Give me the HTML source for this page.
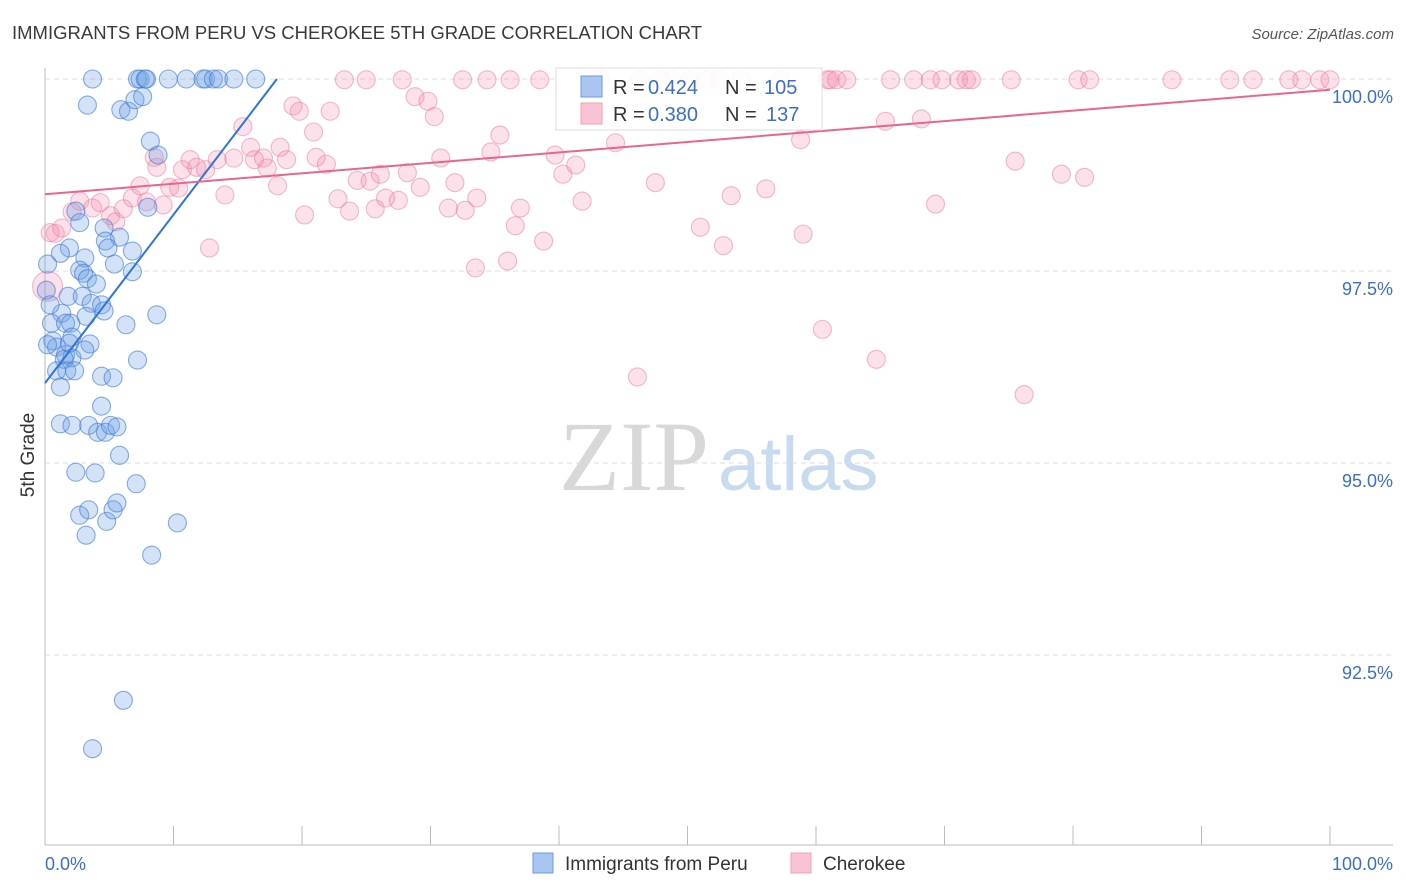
<!DOCTYPE html>
<html><head><meta charset="utf-8"><style>
body{margin:0;background:#fff;font-family:"Liberation Sans",sans-serif;}
#wrap{position:relative;width:1406px;height:892px;overflow:hidden;}
</style></head><body>
<div id="wrap">
<svg id="svg" width="1406" height="892" xmlns="http://www.w3.org/2000/svg">
<text x="12" y="39" font-size="18.5" fill="#3a3a3a">IMMIGRANTS FROM PERU VS CHEROKEE 5TH GRADE CORRELATION CHART</text>
<text x="1394" y="39" font-size="15" fill="#555" font-style="italic" text-anchor="end">Source: ZipAtlas.com</text>
<text x="634" y="490" font-size="100" fill="#d8d8d8" font-family="Liberation Serif,serif" text-anchor="middle">ZIP</text>
<text x="718" y="490" font-size="76" fill="#c8daf0">atlas</text>
<g id="grid"></g>
<g id="axes"></g>
<g id="pts"></g>
<g id="lines"></g>
<text transform="translate(34,455) rotate(-90)" font-size="19" fill="#333" text-anchor="middle">5th Grade</text>
<rect x="556" y="68" width="266" height="62" fill="#fff" fill-opacity="0.9" stroke="#ddd"/>
<rect x="581" y="76" width="21" height="21" fill="#a9c6f0" stroke="#6d9ae0"/>
<rect x="581" y="103" width="21" height="21" fill="#f8c4d4" stroke="#f0a0b8"/>
<g font-size="20">
<text x="613" y="94" fill="#333">R =</text><text x="648" y="94" fill="#3a6fc8">0.424</text>
<text x="725" y="94" fill="#333">N =</text><text x="764" y="94" fill="#3a6fc8">105</text></g>
<g font-size="20">
<text x="613" y="121" fill="#333">R =</text><text x="648" y="121" fill="#3a6fc8">0.380</text>
<text x="725" y="121" fill="#333">N =</text><text x="766" y="121" fill="#3a6fc8">137</text></g>
<rect x="533" y="853" width="20" height="20" fill="#a9c6f0" stroke="#6d9ae0"/>
<text x="565" y="870" font-size="19" fill="#333">Immigrants from Peru</text>
<rect x="791" y="853" width="20" height="20" fill="#f8c4d4" stroke="#f0a0b8"/>
<text x="823" y="870" font-size="19" fill="#333">Cherokee</text>
<text x="45" y="870" font-size="18" fill="#3a6fc8">0.0%</text>
<text x="1393" y="870" font-size="18" fill="#3a6fc8" text-anchor="end">100.0%</text>
</svg>
</div>
<script>
const yTicks=[100,97.5,95,92.5];
const yTickLabels=["100.0%","97.5%","95.0%","92.5%"];
const xTicks=[0,10,20,30,40,50,60,70,80,90,100];
const peruX=[3.7,7.2,7.4,7.8,7.9,9.6,11.0,12.3,12.5,13.1,13.5,14.7,16.4,3.3,5.9,6.5,7.0,7.6,8.2,8.8,8.0,2.4,2.7,4.6,5.8,4.7,4.9,1.9,1.2,3.1,6.8,0.2,5.4,2.7,3.0,6.8,3.3,4.0,1.8,2.9,3.6,4.4,4.6,8.7,6.3,1.3,0.5,1.6,2.0,3.2,2.1,3.5,0.6,0.9,1.6,2.1,3.1,1.5,7.2,0.9,1.7,2.3,4.4,5.3,1.2,4.4,1.2,2.1,3.4,4.1,4.7,5.1,5.6,5.8,2.4,3.9,7.1,2.7,3.4,4.8,5.3,5.6,10.3,3.2,8.3,6.1,3.7,0.1,0.4,0.2,1.9];
const peruY=[100,100,100,100,100,100,100,100,100,100,100,100,100,99.66,99.6,99.58,99.73,99.77,99.19,99.01,98.33,98.28,98.13,98.06,97.94,97.89,97.8,97.8,97.73,97.67,97.76,97.59,97.59,97.51,97.47,97.49,97.4,97.33,97.17,97.17,97.08,97.06,96.98,96.93,96.8,96.95,96.82,96.82,96.82,96.91,96.64,96.55,96.59,96.51,96.41,96.37,96.47,96.35,96.34,96.2,96.2,96.2,96.13,96.11,95.99,95.74,95.51,95.49,95.49,95.4,95.4,95.49,95.47,95.1,94.88,94.87,94.73,94.32,94.39,94.24,94.39,94.48,94.22,94.06,93.8,91.91,91.28,97.25,97.06,96.54,96.56];
const cherX=[0.8,0.4,1.3,2.1,2.7,3.7,4.3,5.1,5.5,6.1,6.8,7.4,7.9,8.7,8.5,9.2,9.7,10.4,10.7,11.3,11.8,12.5,12.8,14.0,13.4,14.7,15.4,16.0,16.3,17.0,17.3,18.1,18.3,18.8,19.3,19.8,20.2,20.9,21.1,21.9,22.2,22.8,23.3,23.7,24.3,25.0,25.3,25.7,26.1,26.5,27.5,27.8,28.2,28.8,29.2,29.8,30.3,30.8,31.4,31.9,32.5,32.7,33.5,33.6,34.4,34.7,35.4,36.0,36.2,36.6,37.0,38.5,38.8,39.7,40.3,41.3,41.8,43.2,44.4,46.1,47.5,48.8,50.2,51.0,51.4,52.5,52.8,53.4,54.2,56.1,57.2,58.8,59.0,60.5,60.9,61.1,61.6,62.4,64.7,65.4,65.8,67.6,68.2,68.9,69.3,69.8,71.1,71.7,72.1,75.2,75.5,76.2,79.1,80.4,80.9,81.3,87.7,92.2,94.0,96.8,97.8,99.2,100,46.3,47.9,0.2];
const cherY=[97.99,98.0,98.06,98.27,98.41,98.32,98.39,98.22,98.14,98.31,98.45,98.61,98.4,98.85,98.98,98.36,98.59,98.58,98.82,98.95,98.85,98.82,97.8,98.49,98.95,98.97,99.38,99.11,98.95,98.97,98.84,98.61,99.11,98.95,99.65,99.58,98.23,99.31,98.98,98.89,99.58,98.44,99.99,98.28,98.68,99.99,98.67,98.31,98.76,98.45,98.42,99.99,98.78,99.77,98.59,99.71,99.51,98.97,98.32,98.65,99.99,98.29,97.54,98.45,99.99,99.05,99.27,97.63,99.99,98.09,98.32,99.99,97.89,99.01,98.76,98.88,98.41,99.99,99.17,96.12,98.65,99.99,99.99,98.07,99.99,99.99,97.83,98.48,99.99,98.57,99.99,99.21,97.98,96.74,99.99,99.99,99.99,99.99,96.35,99.45,99.99,99.99,99.48,99.99,98.37,99.99,99.99,99.99,99.99,99.99,98.93,95.89,98.76,99.99,98.72,99.99,99.99,99.99,99.99,99.99,99.99,99.99,99.99,99.99,99.99,97.3];
const peruTrend=[0,96.04,18.05,100];
const cherTrend=[0,98.5,100,99.86];
const X=v=>45+v*12.85;
const Y=v=>79+(100-v)*76.8;
const NS="http://www.w3.org/2000/svg";
function mk(t,a,p){const e=document.createElementNS(NS,t);for(const k in a)e.setAttribute(k,a[k]);p.appendChild(e);return e;}
const grid=document.getElementById('grid'),axes=document.getElementById('axes'),pts=document.getElementById('pts'),lines=document.getElementById('lines');
yTicks.forEach((t,i)=>{
 const l=mk('line',{x1:45,x2:1393,y1:Y(t),y2:Y(t),stroke:'#ddd','stroke-dasharray':'5,4'},grid);
 
 
 const tx=mk('text',{x:1393,y:Y(t)+24,'font-size':18,fill:'#3a6fc8','text-anchor':'end'},axes);
 tx.textContent=yTickLabels[i];
 
 
});
const ya=mk('line',{x1:45,x2:45,y1:68,y2:845,stroke:'#bbb'},axes);


const xa=mk('line',{x1:45,x2:1393,y1:845,y2:845,stroke:'#bbb'},axes);


xTicks.forEach(t=>{
 const l=mk('line',{x1:X(t),x2:X(t),y1:826,y2:845,stroke:'#bbb'},axes);
 
 
});
cherX.forEach((v,i)=>{
 const big=(i===cherX.length-1);
 const c=mk('circle',{cx:X(v),cy:Y(cherY[i]),r:big?15:9,fill:'rgba(242,140,172,0.26)',stroke:'rgba(232,120,155,0.5)','stroke-width':1.1},pts);
 
 
});
peruX.forEach((v,i)=>{
 const c=mk('circle',{cx:X(v),cy:Y(peruY[i]),r:9,fill:'rgba(110,160,230,0.3)',stroke:'rgba(60,120,210,0.6)','stroke-width':1.1},pts);
 
 
});
const pl=mk('line',{x1:X(peruTrend[0]),y1:Y(peruTrend[1]),x2:X(peruTrend[2]),y2:Y(peruTrend[3]),stroke:'#2f74d8','stroke-width':2},lines);


const cl=mk('line',{x1:X(cherTrend[0]),y1:Y(cherTrend[1]),x2:X(cherTrend[2]),y2:Y(cherTrend[3]),stroke:'#e8658f','stroke-width':2},lines);


</script>
</body></html>
